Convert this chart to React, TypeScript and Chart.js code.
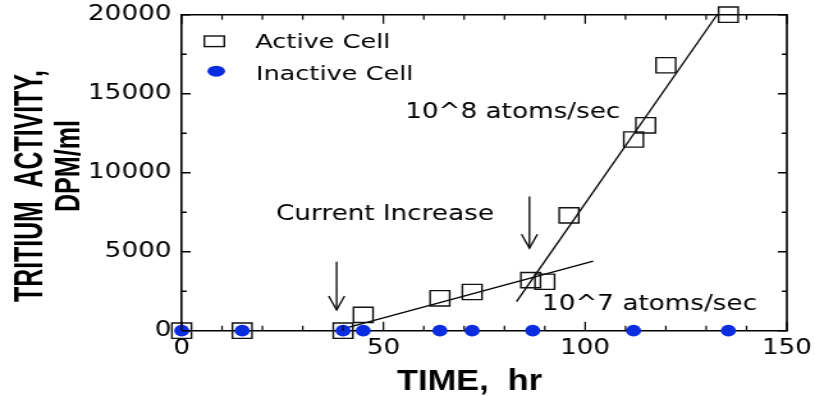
import React, { useEffect, useRef } from 'react';
import { Chart, registerables } from 'chart.js';
Chart.register(...registerables);

// ---- data ----
const activeTime = [0, 15, 40, 45, 64, 72, 86.5, 90, 96, 112, 115, 120, 135.5];
const activeDpm = [0, 0, 0, 1000, 2050, 2450, 3200, 3100, 7300, 12100, 13000, 16800, 20000];
const inactiveTime = [0, 15, 40, 45, 64, 72, 87, 112, 135.5];
const inactiveDpm = [0, 0, 0, 0, 0, 0, 0, 0, 0];
const fit7Time = [38.3, 102];
const fit7Dpm = [0, 4400];
const fit8Time = [83, 132.7];
const fit8Dpm = [1840, 20000];
const arrowTime = [38.4, 86.2];
const arrowTopDpm = [4370, 8490];
const arrowTipDpm = [1310, 5220];
const noteLabels = ['Current Increase', '10^8 atoms/sec', '10^7 atoms/sec'];
const noteTime = [23.4, 55.4, 89.3];
const noteDpm = [7013, 13440, 1310];
const legendLabels = ['Active Cell', 'Inactive Cell'];
const xTicks = [0, 50, 100, 150];
const yTicks = [0, 5000, 10000, 15000, 20000];
const xMinorTicks = [10, 20, 30, 40, 60, 70, 80, 90, 110, 120, 130, 140];
const yMinorTicks = [2500, 7500, 12500, 17500];
const xTitle = 'TIME,  hr';
const yTitleLines = ['TRITIUM  ACTIVITY,', 'DPM/ml'];

const BLUE = '#0a2de0';
const W = 637;
const H = 396;
const DISPLAY_W = 815;

function scaledText(ctx: CanvasRenderingContext2D, text: string, targetW: number) {
  const w = ctx.measureText(text).width;
  ctx.scale(targetW / w, 1);
  ctx.fillText(text, 0, 0);
}

const decor = {
  id: 'decor',
  afterDraw(chart: any) {
    const ctx: CanvasRenderingContext2D = chart.ctx;
    const { left, right, top, bottom } = chart.chartArea;
    const xs = chart.scales.x;
    const ys = chart.scales.y;
    ctx.save();
    ctx.strokeStyle = '#000';
    ctx.fillStyle = '#000';
    // frame top/right
    ctx.lineWidth = 1.6;
    ctx.beginPath();
    ctx.moveTo(left, top);
    ctx.lineTo(right, top);
    ctx.lineTo(right, bottom);
    ctx.stroke();
    // inward ticks
    ctx.lineWidth = 1.4;
    const yt = (v: number, len: number) => {
      const p = ys.getPixelForValue(v);
      ctx.beginPath();
      ctx.moveTo(left, p); ctx.lineTo(left + len, p);
      ctx.moveTo(right, p); ctx.lineTo(right - len, p);
      ctx.stroke();
    };
    yTicks.forEach((v) => yt(v, 7));
    yMinorTicks.forEach((v) => yt(v, 3.9));
    ctx.lineWidth = 1.2;
    const xt = (v: number, len: number) => {
      const p = xs.getPixelForValue(v);
      ctx.beginPath();
      ctx.moveTo(p, bottom); ctx.lineTo(p, bottom - len);
      ctx.moveTo(p, top); ctx.lineTo(p, top + len);
      ctx.stroke();
    };
    xTicks.forEach((v) => xt(v, 9));
    xMinorTicks.forEach((v) => xt(v, 5));
    // arrows
    ctx.lineWidth = 1.3;
    arrowTime.forEach((t, i) => {
      const x = xs.getPixelForValue(t);
      const y0 = ys.getPixelForValue(arrowTopDpm[i]);
      const y1 = ys.getPixelForValue(arrowTipDpm[i]);
      ctx.beginPath();
      ctx.moveTo(x, y0); ctx.lineTo(x, y1);
      ctx.stroke();
      ctx.beginPath();
      ctx.moveTo(x - 6.2, y1 - 14); ctx.lineTo(x, y1); ctx.lineTo(x + 6.2, y1 - 14);
      ctx.stroke();
    });
    // annotations
    ctx.font = '20.5px "DejaVu Sans"';
    ctx.textAlign = 'left';
    ctx.textBaseline = 'alphabetic';
    noteLabels.forEach((s, i) => {
      ctx.fillText(s, xs.getPixelForValue(noteTime[i]), ys.getPixelForValue(noteDpm[i]));
    });
    // legend
    ctx.font = '20px "DejaVu Sans"';
    ctx.lineWidth = 1.4;
    ctx.strokeStyle = '#111';
    ctx.strokeRect(167.5 - 7.8, 41.3 - 5.3, 15.6, 10.6);
    ctx.fillText(legendLabels[0], 199.5, 48);
    ctx.fillStyle = BLUE;
    ctx.beginPath();
    ctx.ellipse(169, 71.2, 6.9, 5.5, 0, 0, Math.PI * 2);
    ctx.fill();
    ctx.fillStyle = '#000';
    ctx.fillText(legendLabels[1], 200, 80);
    // x title
    ctx.font = 'bold 30px "Liberation Sans", Arial, sans-serif';
    ctx.save();
    ctx.translate(310.3, 390);
    scaledText(ctx, xTitle, 113.3);
    ctx.restore();
    // y title
    ctx.save();
    ctx.font = 'bold 31.7px "Liberation Sans", Arial, sans-serif';
    ctx.translate(32.6, 302);
    ctx.rotate(-Math.PI / 2);
    scaledText(ctx, yTitleLines[0], 232);
    ctx.restore();
    ctx.save();
    ctx.font = 'bold 27px "Liberation Sans", Arial, sans-serif';
    ctx.translate(62.3, 212);
    ctx.rotate(-Math.PI / 2);
    scaledText(ctx, yTitleLines[1], 92);
    ctx.restore();
    ctx.restore();
  },
};

export default function App() {
  const ref = useRef<HTMLCanvasElement>(null);
  useEffect(() => {
    document.body.style.margin = '0';
    const canvas = ref.current;
    if (!canvas) return;
    Chart.defaults.font.family = '"DejaVu Sans"';
    Chart.defaults.color = '#000';
    const tickFont = { family: '"DejaVu Sans"', size: 20.5 };
    const chart = new Chart(canvas, {
      type: 'scatter',
      data: {
        datasets: [
          {
            label: legendLabels[1],
            data: inactiveTime.map((x, i) => ({ x, y: inactiveDpm[i] })),
            pointStyle: 'circle',
            pointRadius: 5.9,
            backgroundColor: BLUE,
            borderWidth: 0,
            order: 1,
            clip: false,
          },
          {
            label: legendLabels[0],
            data: activeTime.map((x, i) => ({ x, y: activeDpm[i] })),
            pointStyle: 'rect',
            pointRadius: 10.8,
            backgroundColor: 'rgba(0,0,0,0)',
            borderColor: '#111',
            borderWidth: 1.4,
            order: 2,
            clip: false,
          },
          {
            label: noteLabels[2],
            data: fit7Time.map((x, i) => ({ x, y: fit7Dpm[i] })),
            showLine: true,
            pointRadius: 0,
            borderColor: '#000',
            borderWidth: 1.3,
            order: 3,
            clip: false,
          },
          {
            label: noteLabels[1],
            data: fit8Time.map((x, i) => ({ x, y: fit8Dpm[i] })),
            showLine: true,
            pointRadius: 0,
            borderColor: '#000',
            borderWidth: 1.3,
            order: 4,
            clip: false,
          },
        ],
      } as any,
      options: {
        responsive: false,
        animation: false,
        devicePixelRatio: 1,
        layout: { padding: { top: 14.7, right: 22, left: 0, bottom: 0 } },
        plugins: { legend: { display: false }, tooltip: { enabled: false } },
        scales: {
          x: {
            type: 'linear',
            position: 'bottom',
            min: 0,
            max: 150,
            afterBuildTicks: (s: any) => { s.ticks = xTicks.map((v) => ({ value: v })); },
            afterFit: (s: any) => {
              s.height = H - 330.7;
              s.paddingLeft = 0;
              s.paddingRight = 0;
            },
            ticks: { font: tickFont, color: '#000', padding: 6, maxRotation: 0, autoSkip: false, callback: (v: any) => String(v) },
            grid: { display: false, drawTicks: false },
            border: { display: true, color: '#000', width: 1.6 },
          },
          y: {
            type: 'linear',
            min: 0,
            max: 20000,
            afterBuildTicks: (s: any) => { s.ticks = yTicks.map((v) => ({ value: v })); },
            afterFit: (s: any) => {
              s.width = 181.7 / (DISPLAY_W / W);
              s.paddingTop = 0;
              s.paddingBottom = 0;
            },
            ticks: { font: tickFont, color: '#000', padding: 8, autoSkip: false, callback: (v: any) => String(v) },
            grid: { display: false, drawTicks: false },
            border: { display: true, color: '#000', width: 1.6 },
          },
        },
      } as any,
      plugins: [decor],
    });
    return () => chart.destroy();
  }, []);
  return (
    <canvas
      ref={ref}
      width={W}
      height={H}
      style={{ width: DISPLAY_W + 'px', height: H + 'px', display: 'block' }}
    />
  );
}
